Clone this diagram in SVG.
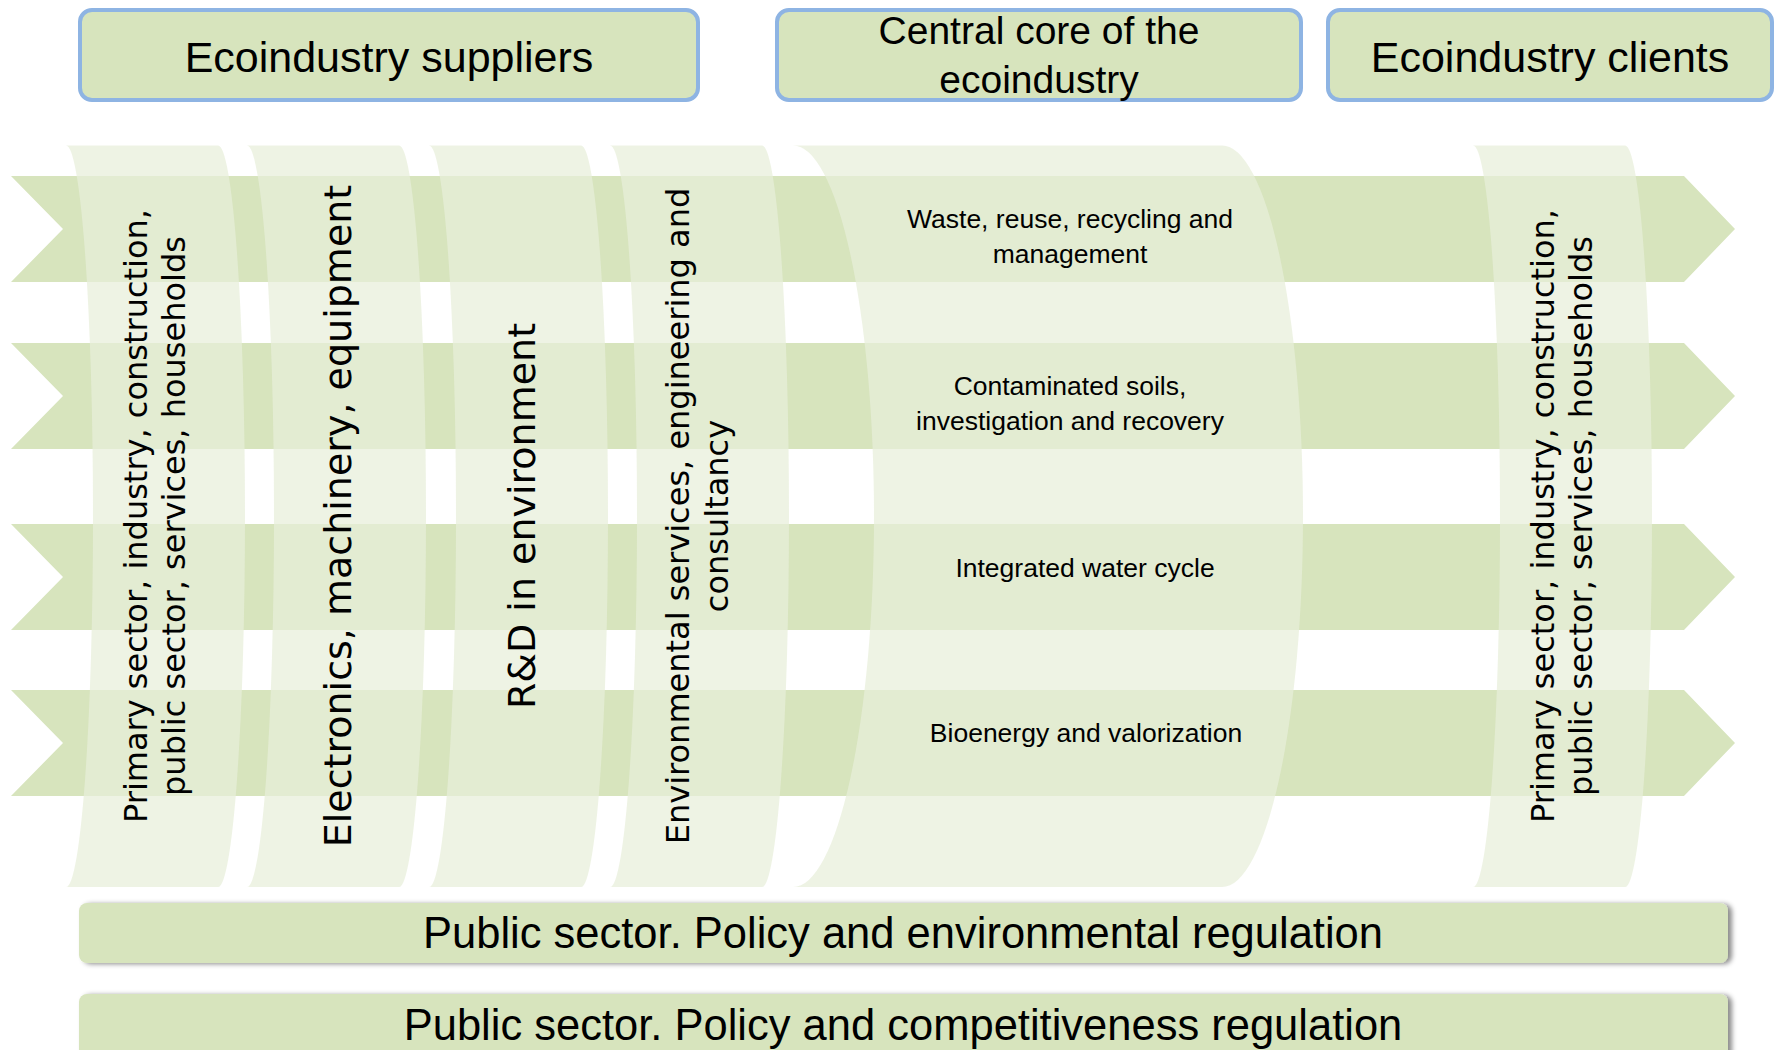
<svg xmlns="http://www.w3.org/2000/svg" width="1777" height="1050" viewBox="0 0 1777 1050">
  <defs>
    <style>
      .hdr { fill: #D7E4BD; stroke: #8EB4E3; stroke-width: 4; }
      .band { fill: #D7E4BD; }
      .strip { fill: rgb(232,238,218); fill-opacity: 0.72; }
      .bar { fill: #D7E4BD; filter: url(#sh); }
      .cal { font-family: "Liberation Sans", Arial, sans-serif; fill: #000; text-anchor: middle; }
      .ver { font-family: "DejaVu Sans", Verdana, sans-serif; fill: #000; text-anchor: middle; }
      .h1 { font-size: 43px; }
      .h2 { font-size: 39px; }
      .core { font-size: 26.5px; }
      .bartxt { font-size: 43.5px; }
      .v32 { font-size: 32px; }
      .v38 { font-size: 38px; }
    </style>
    <filter id="sh" x="-5%" y="-40%" width="110%" height="180%">
      <feDropShadow dx="4" dy="1" stdDeviation="2.5" flood-color="#000" flood-opacity="0.45"/>
    </filter>
  </defs>
  <rect width="1777" height="1050" fill="#FFFFFF"/>

  <!-- Header nodes -->
  <g id="hdr-suppliers">
    <rect class="hdr" x="80" y="10" width="618" height="90" rx="12"/>
    <text class="cal h1" x="389" y="72">Ecoindustry suppliers</text>
  </g>
  <g id="hdr-core">
    <rect class="hdr" x="777" y="10" width="524" height="90" rx="12"/>
    <text class="cal h2" x="1039" y="44">Central core of the</text>
    <text class="cal h2" x="1039" y="93">ecoindustry</text>
  </g>
  <g id="hdr-clients">
    <rect class="hdr" x="1328" y="10" width="444" height="90" rx="12"/>
    <text class="cal h1" x="1550" y="72">Ecoindustry clients</text>
  </g>

  <!-- Flow arrows (connectors) -->
  <g id="connectors">
    <path class="band" d="M11,176 H1684 L1735,229 L1684,282 H11 L63,229 Z"/>
    <path class="band" d="M11,343 H1684 L1735,396 L1684,449 H11 L63,396 Z"/>
    <path class="band" d="M11,524 H1684 L1735,577 L1684,630 H11 L63,577 Z"/>
    <path class="band" d="M11,690 H1684 L1735,743 L1684,796 H11 L63,743 Z"/>
  </g>

  <!-- Supplier strips -->
  <g id="strip-primary">
    <path class="strip" d="M66,145.5 H218 A27 370.75 0 0 1 218,887 H66 A27 370.75 0 0 0 66,145.5 Z"/>
    <g transform="translate(147,516) rotate(-90)">
      <text class="ver v32" x="0" y="0">Primary sector, industry, construction,</text>
    </g>
    <g transform="translate(185,516) rotate(-90)">
      <text class="ver v32" x="0" y="0">public sector, services, households</text>
    </g>
  </g>
  <g id="strip-electronics">
    <path class="strip" d="M247,145.5 H399 A27 370.75 0 0 1 399,887 H247 A27 370.75 0 0 0 247,145.5 Z"/>
    <g transform="translate(351,516) rotate(-90)">
      <text class="ver v38" x="0" y="0">Electronics, machinery, equipment</text>
    </g>
  </g>
  <g id="strip-rd">
    <path class="strip" d="M429,145.5 H581 A27 370.75 0 0 1 581,887 H429 A27 370.75 0 0 0 429,145.5 Z"/>
    <g transform="translate(535,516) rotate(-90)">
      <text class="ver v38" x="0" y="0">R&amp;D in environment</text>
    </g>
  </g>
  <g id="strip-services">
    <path class="strip" d="M610,145.5 H762 A27 370.75 0 0 1 762,887 H610 A27 370.75 0 0 0 610,145.5 Z"/>
    <g transform="translate(689,516) rotate(-90)">
      <text class="ver v32" x="0" y="0">Environmental services, engineering and</text>
    </g>
    <g transform="translate(728,516) rotate(-90)">
      <text class="ver v32" x="0" y="0">consultancy</text>
    </g>
  </g>

  <!-- Central core strip -->
  <g id="strip-core">
    <path class="strip" d="M793,145.5 H1222 A81 370.75 0 0 1 1222,887 H793 A81 370.75 0 0 0 793,145.5 Z"/>
    <text class="cal core" x="1070" y="228">Waste, reuse, recycling and</text>
    <text class="cal core" x="1070" y="263">management</text>
    <text class="cal core" x="1070" y="395">Contaminated soils,</text>
    <text class="cal core" x="1070" y="430">investigation and recovery</text>
    <text class="cal core" x="1085" y="577">Integrated water cycle</text>
    <text class="cal core" x="1086" y="742">Bioenergy and valorization</text>
  </g>

  <!-- Client strip -->
  <g id="strip-clients">
    <path class="strip" d="M1473,145.5 H1625 A27 370.75 0 0 1 1625,887 H1473 A27 370.75 0 0 0 1473,145.5 Z"/>
    <g transform="translate(1554,516) rotate(-90)">
      <text class="ver v32" x="0" y="0">Primary sector, industry, construction,</text>
    </g>
    <g transform="translate(1592,516) rotate(-90)">
      <text class="ver v32" x="0" y="0">public sector, services, households</text>
    </g>
  </g>

  <!-- Public sector bars -->
  <g id="bar-environmental">
    <rect class="bar" x="79" y="903" width="1649" height="60" rx="8"/>
    <text class="cal bartxt" x="903" y="948">Public sector. Policy and environmental regulation</text>
  </g>
  <g id="bar-competitiveness">
    <rect class="bar" x="79" y="994" width="1649" height="70" rx="8"/>
    <text class="cal bartxt" x="903" y="1040">Public sector. Policy and competitiveness regulation</text>
  </g>
</svg>
